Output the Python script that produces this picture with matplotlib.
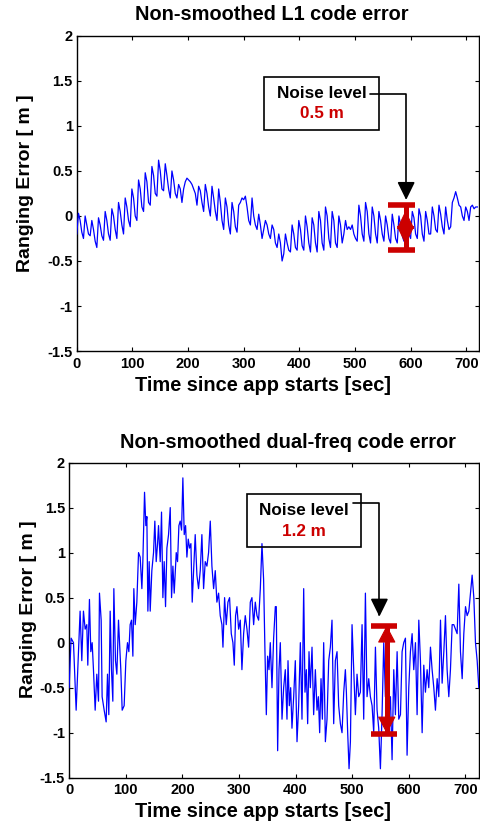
import numpy as np
import matplotlib
matplotlib.use('Agg')
import matplotlib.pyplot as plt
from matplotlib.patches import Rectangle

plt.rcParams['font.family'] = ['Liberation Sans', 'DejaVu Sans']
plt.rcParams['font.weight'] = 'bold'
plt.rcParams['axes.unicode_minus'] = False

# L1 code error [m], one sample every 3 s from 0 to 720 s
l1_time = np.arange(0, 723, 3)
l1_err = [
    -0.2, 0.03, -0.05, -0.18, -0.25, 0.0, -0.1, -0.2, -0.22, -0.05, -0.15, -0.28,
    -0.35, -0.02, -0.1, -0.22, -0.27, 0.05, -0.05, -0.2, -0.27, 0.08, 0.0, -0.15,
    -0.25, 0.15, 0.05, -0.1, -0.2, 0.2, 0.1, -0.05, -0.12, 0.3, 0.2, 0.0,
    -0.05, 0.4, 0.3, 0.1, 0.05, 0.48, 0.38, 0.15, 0.12, 0.55, 0.45, 0.25,
    0.22, 0.62, 0.5, 0.3, 0.28, 0.58, 0.45, 0.3, 0.2, 0.5, 0.4, 0.25,
    0.2, 0.35, 0.3, 0.15, 0.3, 0.38, 0.42, 0.4, 0.38, 0.35, 0.3, 0.25,
    0.12, 0.33, 0.28, 0.15, 0.05, 0.35, 0.25, 0.1, 0.0, 0.33, 0.2, 0.05,
    -0.05, 0.3, 0.15, -0.05, -0.15, 0.2, 0.1, -0.1, -0.2, 0.15, 0.05, -0.12,
    -0.18, 0.12, 0.15, 0.2, 0.18, 0.22, 0.1, -0.05, -0.1, 0.2, 0.0, -0.1,
    -0.15, 0.02, -0.1, -0.25, -0.15, -0.05, -0.1, -0.2, -0.25, -0.1, -0.15, -0.3,
    -0.35, -0.2, -0.3, -0.5, -0.42, -0.2, -0.3, -0.38, -0.4, -0.1, -0.2, -0.35,
    -0.38, -0.05, -0.15, -0.33, -0.38, 0.0, -0.12, -0.3, -0.4, -0.02, -0.1, -0.3,
    -0.4, 0.05, -0.05, -0.3, -0.38, 0.1, 0.0, -0.25, -0.35, 0.05, -0.05, -0.3,
    -0.35, 0.0, -0.1, -0.3, -0.2, -0.05, -0.15, -0.12, -0.15, -0.1, -0.2, -0.25,
    -0.28, 0.12, 0.0, -0.2, -0.28, 0.15, 0.05, -0.2, -0.3, 0.1, 0.0, -0.2,
    -0.3, 0.05, -0.05, -0.2, -0.28, 0.0, -0.1, -0.25, -0.3, 0.02, -0.1, -0.25,
    -0.3, 0.0, -0.1, -0.22, -0.28, 0.05, -0.05, -0.2, -0.25, 0.05, -0.02, -0.2,
    -0.25, 0.08, 0.0, -0.2, -0.28, 0.05, -0.05, -0.2, -0.2, 0.1, 0.0, -0.15,
    -0.18, 0.12, 0.02, -0.12, -0.2, 0.1, -0.05, -0.15, -0.12, 0.15, 0.2, 0.27,
    0.2, 0.12, 0.1, 0.0, -0.05, 0.1, 0.05, -0.05, 0.1, 0.12, 0.08, 0.1,
    0.1,
]

# dual-frequency code error [m]
dual_time = [
    0, 3.5, 7.7, 12.4, 16.5, 19.4, 22.4, 25.3, 28.3, 31.2, 33.0, 35.9, 38.3, 40.7,
    43.0, 46.0, 48.9, 51.9, 53.6, 56.6, 58.3, 61.9, 65.4, 67.8, 70.1, 72.5, 74.8,
    77.2, 79.0, 81.9, 84.3, 87.2, 89.0, 91.3, 93.7, 97.2, 100.2, 103.1, 105.5,
    107.8, 110.2, 112.6, 114.3, 116.7, 119.6, 122.6, 125.5, 128.5, 130.2, 133.2,
    135.5, 137.3, 139.1, 141.4, 143.2, 146.1, 149.1, 151.4, 153.8, 156.2, 157.9,
    160.9, 163.2, 165.6, 167.9, 170.3, 172.7, 175.6, 178.6, 180.9, 183.3, 185.6,
    189.2, 191.5, 193.9, 196.2, 198.6, 200.9, 203.3, 205.7, 208.0, 210.4, 212.7,
    215.1, 217.4, 219.8, 222.7, 225.7, 228.6, 231.6, 234.5, 237.5, 240.4, 243.4,
    246.3, 249.3, 252.2, 255.2, 258.1, 261.0, 264.0, 266.9, 269.9, 271.7, 274.6,
    277.5, 280.5, 283.4, 286.4, 289.3, 291.7, 294.0, 296.4, 299.4, 302.3, 305.2,
    308.2, 311.1, 314.1, 317.0, 320.0, 322.9, 325.9, 328.8, 331.8, 334.7, 337.7,
    340.6, 343.5, 345.9, 348.3, 350.6, 353.0, 355.3, 358.3, 361.2, 364.2, 365.9,
    368.3, 370.7, 373.0, 376.0, 378.9, 381.8, 384.8, 386.6, 388.9, 391.3, 393.6,
    396.6, 399.5, 402.5, 405.4, 408.4, 411.3, 414.3, 416.6, 419.0, 421.3, 423.7,
    426.0, 429.0, 431.9, 434.9, 437.8, 440.2, 442.5, 444.9, 447.3, 449.6, 452.6,
    455.5, 458.5, 461.4, 464.3, 467.3, 470.2, 473.2, 476.1, 479.1, 482.0, 485.0,
    487.9, 489.7, 492.0, 494.4, 496.8, 499.7, 502.7, 505.6, 508.5, 511.5, 514.4,
    517.4, 520.3, 523.3, 526.2, 529.2, 532.1, 535.1, 538.0, 541.0, 543.9, 546.8,
    549.8, 552.7, 555.7, 558.6, 561.6, 564.5, 567.5, 570.4, 573.4, 576.3, 579.3,
    582.2, 585.2, 588.1, 591.0, 594.0, 596.9, 599.9, 602.8, 605.8, 608.7, 611.7,
    614.6, 617.6, 620.5, 623.5, 626.4, 629.3, 632.3, 635.2, 638.2, 641.1, 644.1,
    647.0, 650.0, 652.9, 655.9, 658.8, 661.8, 664.7, 667.6, 670.6, 673.5, 676.5,
    679.4, 682.4, 685.3, 688.3, 691.2, 694.2, 697.1, 700.1, 703.0, 706.0, 708.9,
    711.8, 714.8, 717.7, 720.7, 723.6,
]
dual_err = [
    -0.5, 0.05, 0.0, -0.75, -0.1, 0.35, -0.2, 0.35, 0.15, 0.2, -0.25, 0.48, -0.1, 0.0,
    -0.3, -0.75, -0.35, -0.65, 0.55, 0.25, -0.6, -0.75, -0.88, -0.35, -0.8, 0.35, -0.3,
    -0.65, 0.6, -0.2, -0.35, 0.25, 0.0, -0.3, -0.75, -0.7, -0.2, 0.0, -0.1,
    0.2, 0.25, -0.15, 0.6, 0.2, 0.45, 1.0, 0.95, 0.6, 0.9, 1.67,
    1.3, 1.4, 0.35, 0.9, 0.35, 0.8, 1.0, 1.35, 0.9, 1.1, 1.3,
    0.9, 1.45, 0.5, 0.9, 0.4, 1.05, 1.2, 1.5, 0.5, 0.85, 0.55,
    1.0, 0.9, 1.3, 1.35, 1.25, 1.83, 1.2, 1.3, 0.95, 1.15, 1.05,
    1.1, 0.45, 0.8, 1.2, 0.75, 0.6, 0.8, 1.2, 0.6, 0.9, 0.85,
    1.0, 1.35, 0.85, 0.6, 0.8, 0.45, 0.55, 0.3, 0.2, -0.05, 0.5,
    0.2, 0.45, 0.5, 0.1, 0.0, -0.25, 0.3, 0.4, 0.15, 0.25, -0.3,
    0.1, 0.3, 0.15, -0.05, 0.45, 0.5, 0.2, 0.45, 0.3, 0.25, 0.6,
    1.1, 0.7, -0.1, -0.8, -0.15, -0.3, 0.0, -0.5, 0.05, 0.4, 0.4,
    -1.2, -0.3, 0.0, -0.85, -0.5, -0.3, -0.85, -0.2, -0.7, -0.5, -0.95,
    -0.6, -0.2, -1.1, -0.7, 0.0, -0.85, 0.6, -0.55, -0.3, -0.9, -0.1,
    -0.5, -0.05, -0.8, -0.3, -0.75, -0.6, -1.0, -0.4, -0.85, 0.0, -1.1,
    -0.85, -0.2, -0.05, 0.25, -0.9, -0.2, -0.1, -0.7, -0.9, -1.0, -0.55,
    -0.3, -0.55, -1.0, -1.4, -1.1, 0.2, -0.3, -0.8, -0.35, -0.6, -0.55,
    0.2, -0.85, 0.55, -0.6, -0.4, -0.6, -0.7, -1.0, -0.05, -0.75, -0.95,
    -1.4, -0.8, 0.0, -0.6, -0.1, -0.85, -0.6, -1.3, -0.3, -0.8, -0.1,
    -0.85, -0.8, -0.1, 0.0, 0.05, -1.25, -0.5, -0.1, 0.1, -0.3, 0.0,
    -0.8, 0.25, -0.2, -1.0, -0.25, -0.55, -0.3, -0.5, -0.05, -0.3, -0.5,
    -0.75, -0.4, -0.6, 0.25, -0.45, -0.1, 0.3, -0.3, -0.6, -0.3, 0.2,
    0.2, 0.15, 0.1, 0.65, -0.1, -0.4, 0.1, 0.4, 0.3, 0.35, 0.55,
    0.75, 0.5, 0.0, -0.2, -0.5,
]

x_ticks = [0, 100, 200, 300, 400, 500, 600, 700]
y_ticks = [-1.5, -1, -0.5, 0, 0.5, 1, 1.5, 2]
y_tick_labels = ['-1.5', '-1', '-0.5', '0', '0.5', '1', '1.5', '2']

# noise level quoted on each panel [m]
l1_noise = 0.5
dual_noise = 1.2

RED = '#CC0000'
BLUE = '#0000FF'


def style_axes(ax, xmax, ylab_xy, xlab_xy):
    ax.set_xlim(0, xmax)
    ax.set_ylim(-1.5, 2)
    ax.set_xticks(x_ticks)
    ax.set_yticks(y_ticks)
    ax.set_yticklabels(y_tick_labels)
    ax.tick_params(direction='in', length=3, width=0.8, top=True, right=True,
                   labelsize=10.5)
    ax.tick_params(axis='x', pad=4)
    ax.tick_params(axis='y', pad=3)
    for s in ax.spines.values():
        s.set_linewidth(1.0)
    ax.set_ylabel('Ranging Error [ m ]', fontsize=14, fontweight='bold',
                  va='center', ha='center')
    ax.yaxis.set_label_coords(*ylab_xy)
    ax.set_xlabel('Time since app starts [sec]', fontsize=14.4, fontweight='bold',
                  va='center', ha='center')
    ax.xaxis.set_label_coords(*xlab_xy)


def noise_marker(ax, box, text_x, text_y, label, conn_start, arrow_tip,
                 bar_x, cap_x, center, level, head_len, shrink):
    x0, y0, x1, y1 = box
    ax.add_patch(Rectangle((x0, y0), x1 - x0, y1 - y0, fill=False,
                           edgecolor='black', lw=1.2, zorder=4))
    ax.text(text_x, text_y[0], 'Noise level', ha='center', va='center',
            fontsize=12.3, fontweight='bold', color='black', zorder=5)
    ax.text(text_x, text_y[1], label, ha='center', va='center',
            fontsize=12.3, fontweight='bold', color=RED, zorder=5)
    # elbow connector down to the noise bar
    ax.annotate('', xy=arrow_tip, xytext=conn_start,
                arrowprops=dict(arrowstyle='-|>,head_length=11,head_width=5.4',
                                mutation_scale=1,
                                connectionstyle='angle,angleA=0,angleB=90,rad=0',
                                color='black', lw=1.2, shrinkA=0, shrinkB=0),
                zorder=5)
    lo, hi = center - level / 2, center + level / 2
    ax.hlines([lo, hi], cap_x[0], cap_x[1], colors=RED, lw=4, zorder=5)
    ax.vlines(bar_x, lo, hi, colors=RED, lw=3.6, zorder=5)
    ax.annotate('', xy=(bar_x, hi), xytext=(bar_x, lo),
                arrowprops=dict(arrowstyle='<|-|>,head_length=%g,head_width=5.8' % head_len,
                                mutation_scale=1, color=RED, lw=0.8,
                                shrinkA=shrink, shrinkB=shrink),
                zorder=5)


fig = plt.figure(figsize=(4.8, 8.25), dpi=100)

# top panel: L1 only
ax1 = fig.add_axes([0.160, 0.5745, 0.838, 0.382])
ax1.plot(l1_time, l1_err, color=BLUE, lw=0.9, zorder=3)
style_axes(ax1, 723, (-0.1286, 0.533), (0.463, -0.108))
noise_marker(ax1, box=(337, 0.956, 544, 1.54), text_x=440, text_y=(1.356, 1.133),
             label='0.5 m', conn_start=(527, 1.356), arrow_tip=(592, 0.178),
             bar_x=591, cap_x=(560, 607), center=-0.128, level=l1_noise,
             head_len=12, shrink=4)
fig.text(0.567, 0.982, 'Non-smoothed L1 code error', ha='center', va='center',
         fontsize=14.4, fontweight='bold')

# bottom panel: dual-frequency
ax2 = fig.add_axes([0.144, 0.0573, 0.854, 0.382])
ax2.plot(dual_time, dual_err, color=BLUE, lw=0.9, zorder=3)
style_axes(ax2, 724, (-0.1, 0.535), (0.473, -0.108))
noise_marker(ax2, box=(314, 1.063, 516, 1.652), text_x=415, text_y=(1.467, 1.24),
             label='1.2 m', conn_start=(501, 1.55), arrow_tip=(548, 0.289),
             bar_x=561, cap_x=(534, 579), center=-0.41, level=dual_noise,
             head_len=11, shrink=0)
fig.text(0.6, 0.464, 'Non-smoothed dual-freq code error', ha='center', va='center',
         fontsize=14.4, fontweight='bold')

fig.savefig('out.png', dpi=100)
